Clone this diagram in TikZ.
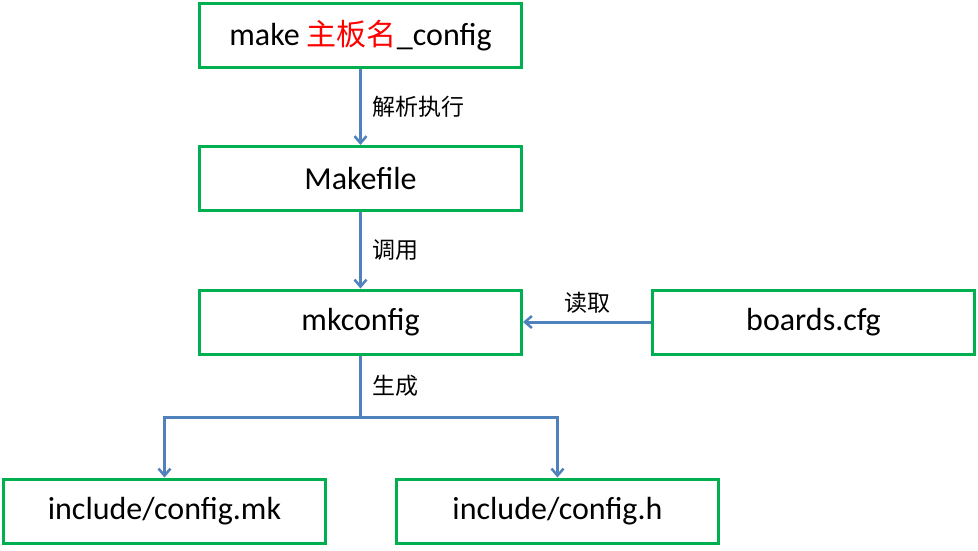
\documentclass[tikz,border=0pt]{standalone}
\usepackage{fontspec}
\setmainfont{Carlito}
\newfontfamily\cjk{Noto Sans CJK SC}
\usetikzlibrary{arrows.meta}
\definecolor{boxgreen}{HTML}{00B050}
\definecolor{arrblue}{HTML}{4F81BD}
\begin{document}
\begin{tikzpicture}[x=1pt,y=-1pt,
  blk/.style={draw=boxgreen,line width=3pt,fill=white,minimum width=322pt,minimum height=64pt,inner sep=0pt,font=\fontsize{32}{36}\selectfont},
  conn/.style={draw=arrblue,line width=3pt,-{Straight Barb[length=7pt,width=12pt,line width=2.5pt]}},
  lab/.style={font=\cjk\fontsize{23}{26}\selectfont,inner sep=0pt}]
\useasboundingbox (0,0) rectangle (978,550);
\node[blk] (make) at (360.5,35.5) {make {\cjk\color{red}\fontsize{30}{34}\selectfont 主板名}\_config};
\node[blk] (mf) at (360.5,178.5) {Makefile};
\node[blk] (mk) at (360.5,322) {mkconfig};
\node[blk] (bc) at (813.5,322) {boards.cfg};
\node[blk] (cmk) at (164.5,511) {include/config.mk};
\node[blk] (ch) at (557.5,511) {include/config.h};
\draw[conn] (make.south) -- (mf.north) node[midway,right=10pt,lab] {解析执行};
\draw[conn] (mf.south) -- (mk.north) node[midway,right=10pt,lab] {调用};
\draw[conn] (bc.west) -- (mk.east) node[midway,above=7pt,lab] {读取};
\coordinate (split) at (360.5,417);
\draw[draw=arrblue,line width=3pt] (mk.south) -- (split) node[midway,right=10pt,lab] {生成};
\draw[conn] (split) -| (cmk.north);
\draw[conn] (split) -| (ch.north);
\end{tikzpicture}
\end{document}
